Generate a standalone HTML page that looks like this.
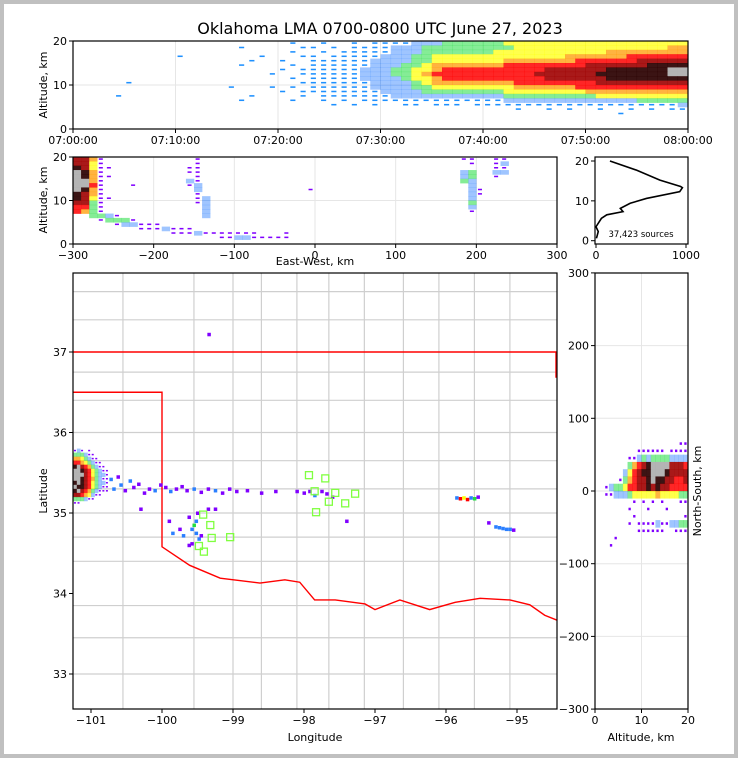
<!DOCTYPE html>
<html><head><meta charset="utf-8"><style>
html,body{margin:0;padding:0;background:#fff}
svg{display:block;font-family:"DejaVu Sans","Liberation Sans",sans-serif}
</style></head><body>
<svg id="fig" width="738" height="758" viewBox="0 0 738 758" xmlns="http://www.w3.org/2000/svg">
<rect x="0" y="0" width="738" height="758" fill="#c0c0c0"/>
<rect x="4" y="4" width="730" height="750" fill="#fff"/>
<text x="380" y="34" font-size="16" text-anchor="middle">Oklahoma LMA 0700-0800 UTC June 27, 2023</text>
<g id="layer"></g>
</svg>
<script>
// ---------- DATA ----------
const timeAltRows = [
"0000000000 0000000000 0100100101 1112223333 3344444444 4444444444",
"0000000000 0000001000 0011010111 1222333333 3334444444 4444444455",
"0000000000 0000000000 0100101111 1222333333 3444444444 4455555555",
"0000000000 1000000010 0011011111 2223344444 4444444455 5555666666",
"0000000000 0000000100 1001111112 2223344444 4455555556 6666677777",
"0000000000 0000001000 0101111112 2233455555 5566666666 7777778888",
"0000000000 0000000000 1011111122 2334456666 6666667777 7788888899",
"0000000000 0000000001 0011111122 2334566666 6666677777 7888888899",
"0000000000 0000000000 0101111122 2234456666 6666667777 7788888888",
"0000010000 0000000000 0011111112 2223455555 5556666666 6777777777",
"0000000000 0000010001 0101111112 2223344444 4445555556 6666666666",
"0000000000 0000000000 1011111111 2222333333 3344444444 5555555555",
"0000100000 0000000100 0010111111 1222222222 2233333333 3444444444",
"0000000000 0000001000 0100101011 1111111111 1122222222 2222233333",
"0000000000 0000000000 0000010101 0011011101 1111111111 1111111112",
"0000000000 0000000000 0000000000 0000000000 0001001010 0100101011",
"0000000000 0000000000 0000000000 0000000000 0000000000 0001000000",
"0000000000 0000000000 0000000000 0000000000 0000000000 0000000000",
"0000000000 0000000000 0000000000 0000000000 0000000000 0000000000",
"0000000000 0000000000 0000000000 0000000000 0000000000 0000000000"];
const timeTicks = ["07:00:00","07:10:00","07:20:00","07:30:00","07:40:00","07:50:00","08:00:00"];
const timeTickMin = [0,10,20,30,40,50,60];
const ewAltRows = [
"7751000000 0000010000 0000000000 0000000000 0000000011 0011000000",
"7741000000 0000010000 0000000000 0000000000 0000000001 0012000000",
"8741100000 0000110000 0000000000 0000000000 0000000000 0011000000",
"9851000000 0000110000 0000000000 0000000000 0000000023 0022000000",
"9851100000 0000010000 0000000000 0000000000 0000000023 0010000000",
"9951000000 0000210000 0000000000 0000000000 0000000032 0000000000",
"9961000100 0000120000 0000000000 0000000000 0000000002 0000000000",
"9851000000 0000020000 0000000001 0000000000 0000000002 1000000000",
"8751000000 0000010000 0000000000 0000000000 0000000002 1000000000",
"8741100000 0000012000 0000000000 0000000000 0000000002 0000000000",
"7731000000 0000012000 0000000000 0000000000 0000000003 0000000000",
"6631000000 0000002000 0000000000 0000000000 0000000002 0000000000",
"6531000000 0000002000 0000000000 0000000000 0000000001 0000000000",
"0033210000 0000002000 0000000000 0000000000 0000000000 0000000000",
"0001333100 0000000000 0000000000 0000000000 0000000000 0000000000",
"0000012211 1000000000 0000000000 0000000000 0000000000 0000000000",
"0000000011 1211100000 0000000000 0000000000 0000000000 0000000000",
"0000000000 0011121111 1110001000 0000000000 0000000000 0000000000",
"0000000000 0000000011 2211111000 0000000000 0000000000 0000000000",
"0000000000 0000000000 0000000000 0000000000 0000000000 0000000000"];
const ewTicks = [-300,-200,-100,0,100,200,300];
const histAlt   = [0.6, 2.3, 3.5, 5.6, 6.5, 7.3, 8.1, 9.4, 10.6, 12.3, 13.3, 13.6, 15.2, 17.7, 20];
const histCount = [5,   25,  0,   60,  120, 300, 270, 380, 560,  930,  960,  940,  710,  450,  155];
const sourceLabel = "37,423 sources";
const nsRows = [
"00000000000000000011",
"00000000011111101111",
"00000001123233332222",
"00000003567899997776",
"00000024678899987777",
"00000135677898877667",
"00123346677878776666",
"00112223444445444433",
"00000000101010100011",
"00000001000100010000",
"00000000100000000001",
"00000001011112112233",
"00000000011111100111",
"00001000000000000000",
"00010000000000000000"];
const nsTop = 70;
const nsTicks = [-300,-200,-100,0,100,200,300];
const altTicks = [0,10,20];
const mapBlobRows = [
"1210100000","3332110000","5543211000","6654321100","8976532110","9987643211",
"9997643221","9987653211","8987643221","9887643211","8976532111","7765421100",
"3332110000","1100000000"];
const mapPtLon = [-100.72,-100.68,-100.62,-100.58,-100.52,-100.45,-100.4,-100.33,-100.25,-100.18,-100.1,-100.02,-99.95,-99.88,-99.8,-99.72,-99.65,-99.55,-99.45,-99.35,-99.25,-99.15,-99.05,-98.95,-98.8,-98.6,-98.4,
 -98.1,-98.0,-97.92,-97.85,-97.75,-97.68,-97.6,
 -95.85,-95.8,-95.75,-95.7,-95.65,-95.6,-95.55,
 -95.4,-95.3,-95.25,-95.2,-95.15,-95.1,-95.05,
 -99.9,-99.85,-99.75,-99.7,-99.62,-99.58,-99.55,-99.52,-99.5,-99.48,-99.45,-99.58,-99.62,-99.52,-99.25,-99.35,
 -99.34,-100.3,-97.4];
const mapPtLat = [35.42,35.3,35.45,35.35,35.28,35.4,35.32,35.36,35.25,35.3,35.28,35.35,35.32,35.27,35.3,35.33,35.28,35.3,35.26,35.3,35.28,35.25,35.3,35.27,35.28,35.25,35.27,
 35.27,35.25,35.27,35.22,35.27,35.24,35.2,
 35.19,35.18,35.19,35.17,35.19,35.18,35.2,
 34.88,34.83,34.82,34.81,34.8,34.8,34.79,
 34.9,34.75,34.8,34.72,34.95,34.8,34.85,34.75,35.0,34.68,34.72,34.62,34.6,34.9,35.05,35.05,
 37.22,35.05,34.9];
const mapPtLvl = [2,2,1,2,1,2,1,1,1,1,2,1,1,2,1,1,1,2,1,1,2,1,1,1,1,1,1,
 1,1,1,2,1,1,1, 2,6,4,6,2,3,1, 1,2,2,2,2,2,1,
 1,2,1,2,1,2,3,2,1,2,1,1,1,2,1,1, 1,1,1];
const stationLon = [-97.93,-97.70,-97.85,-97.56,-97.65,-97.42,-97.28,-97.83,-99.42,-99.32,-99.30,-99.04,-99.48,-99.41];
const stationLat = [35.47,35.43,35.27,35.25,35.14,35.12,35.24,35.01,34.98,34.85,34.69,34.70,34.59,34.52];
const borderLon = [-101.25,-100.0,-100.0,-99.61,-99.18,-98.62,-98.27,-98.06,-97.85,-97.56,-97.14,-97.0,-96.65,-96.23,-95.87,-95.52,-95.10,-94.82,-94.61,-94.44];
const borderLat = [36.5,36.5,34.58,34.35,34.19,34.13,34.17,34.14,33.92,33.92,33.87,33.80,33.92,33.80,33.89,33.94,33.92,33.86,33.73,33.67];
const countyLats = [37.75,37.4,36.75,36.4,36.0,35.65,35.3,35.0,34.7,34.4,33.85,33.45,33.0];
const countyLons = [-100.55,-99.55,-99.0,-98.6,-98.1,-97.65,-97.15,-96.6,-96.1,-95.6,-95.1];
const lonTicks = [-101,-100,-99,-98,-97,-96,-95];
const latTicks = [33,34,35,36,37];

// ---------- SCALES ----------
const tx = m => 73 + m/60*615, ty = a => 129 - a/20*88;
const ex = k => 73 + (k+300)/600*484, ey = a => 244 - a/20*87;
const hx = c => 596 + c*0.09, hy = a => 240.7 - a*3.985;
const mx = lon => 91 + (lon+101)*71, my = lat => 352 - (lat-37)*80.5;
const rx = a => 595 + a/20*93, ry = n => 491 - n*0.727;

const NS = "http://www.w3.org/2000/svg";
const layer = document.getElementById('layer');
function mk(tag, attrs, parent){ const e=document.createElementNS(NS,tag); for(const k in attrs) e.setAttribute(k,attrs[k]); (parent||layer).appendChild(e); return e; }
const pal = ['', '', '#2a7fff', '#20dd40', '#ffff00', '#ff9900', '#ff0000', '#a00000', '#2a0000', '#b0b0b0'];
const op  = [0, 1, 0.45, 0.55, 0.7, 0.75, 0.85, 0.9, 0.92, 0.95];

function drawMatrix(g, rows, xs, ys, x0, yTop, dx, dy, sparse){
  rows.forEach((r, ri) => {
    const s = r.replace(/ /g,'');
    for (let ci=0; ci<s.length; ci++){
      const lv = +s[ci]; if(!lv) continue;
      const xa = xs(x0 + ci*dx), xb = xs(x0 + (ci+1)*dx);
      const ya = ys(yTop - ri*dy), yb = ys(yTop - (ri+1)*dy);
      const x = Math.min(xa,xb), w = Math.abs(xb-xa), y = Math.min(ya,yb), h = Math.abs(yb-ya);
      let c;
      if (lv===1) c = mk('rect',{x:x+w*0.2,y:y+h*0.3,width:Math.max(w*0.5,2),height:Math.max(h*0.35,1.5),fill:sparse},g);
      else c = mk('rect',{x:x,y:y,width:w+0.3,height:h+0.3,fill:pal[lv],opacity:op[lv]},g);
      
      
    }
  });
}
function txt(x,y,s,opts){ const t=mk('text',Object.assign({x:x,y:y,'font-size':11,'text-anchor':'middle'},opts||{})); t.textContent=s; return t; }
function frame(x,y,w,h,name){ const r=mk('rect',{x:x,y:y,width:w,height:h,fill:'none',stroke:'#000','stroke-width':1.2});   }
function tickX(x,yb,label,name){ const l=mk('line',{x1:x,y1:yb,x2:x,y2:yb+4,stroke:'#000'});   const t=txt(x,yb+15,label);   }
function tickY(xl,y,label,name){ const l=mk('line',{x1:xl-4,y1:y,x2:xl,y2:y,stroke:'#000'});   const t=txt(xl-6,y+4,label,{'text-anchor':'end'});   }
function grid(x1,y1,x2,y2){ const l=mk('line',{x1:x1,y1:y1,x2:x2,y2:y2,stroke:'#e6e6e6','stroke-width':1});   }

// ---------- TOP PANEL ----------
timeTickMin.forEach(m=>grid(tx(m),41,tx(m),129)); grid(73,ty(10),688,ty(10));
const gTop = mk('g',{});  
drawMatrix(gTop, timeAltRows, tx, ty, 0, 20, 1, 1, '#1e90ff');
frame(73,41,615,88,'time-altitude-axes');
timeTickMin.forEach((m,i)=>tickX(tx(m),129,timeTicks[i],'time-axis'));
[0,10,20].forEach(a=>tickY(73,ty(a),String(a),'top-altitude-axis'));
let t = txt(47,85,'Altitude, km',{transform:'rotate(-90 47 85)'});  

// ---------- EAST-WEST PANEL ----------
ewTicks.forEach(k=>grid(ex(k),157,ex(k),244)); grid(73,ey(10),557,ey(10));
const gEW = mk('g',{});  
drawMatrix(gEW, ewAltRows, ex, ey, -300, 20, 10, 1, '#8000ff');
frame(73,157,484,87,'east-west-axes');
ewTicks.forEach(k=>tickX(ex(k),244,k<0?'\u2212'+(-k):String(k),'east-west-axis'));
[0,10,20].forEach(a=>tickY(73,ey(a),String(a),'ew-altitude-axis'));
t = txt(47,200,'Altitude, km',{transform:'rotate(-90 47 200)'});  
t = txt(315,265,'East-West, km');  

// ---------- HISTOGRAM ----------
const hp = mk('polyline',{points:histAlt.map((a,i)=>hx(histCount[i])+','+hy(a)).join(' '),fill:'none',stroke:'#000','stroke-width':1.6});
 
frame(595,157,93,87,'histogram-axes');
[0,1000].forEach(c=>tickX(hx(c),244,String(c),'histogram-count-axis'));
[0,10,20].forEach(a=>tickY(595,hy(a),String(a),'histogram-altitude-axis'));
t = txt(641,237,sourceLabel,{'font-size':8.5});  

// ---------- MAP ----------
const gMap = mk('g',{});  
const clip = mk('clipPath',{id:'mapclip'}); mk('rect',{x:73,y:273,width:484,height:436},clip);
const gGeo = mk('g',{'clip-path':'url(#mapclip)'},gMap);
countyLats.forEach(la=>{ const l=mk('line',{x1:73,y1:my(la),x2:557,y2:my(la),stroke:'#cfcfcf','stroke-width':1.2},gGeo);   });
countyLons.forEach(lo=>{ const l=mk('line',{x1:mx(lo),y1:273,x2:mx(lo),y2:709,stroke:'#cfcfcf','stroke-width':1.2},gGeo);   });
let sl = mk('line',{x1:73,y1:my(37),x2:557,y2:my(37),stroke:'#ff0000','stroke-width':1.4},gGeo);  
sl = mk('line',{x1:556,y1:my(37),x2:556,y2:my(36.68),stroke:'#ff0000','stroke-width':1.4},gGeo);  
const bp = mk('polyline',{points:borderLon.map((lo,i)=>mx(lo)+','+my(borderLat[i])).join(' '),fill:'none',stroke:'#ff0000','stroke-width':1.4},gGeo);
 
drawMatrix(gGeo, mapBlobRows, mx, my, -101.25, 35.8, 0.05, 0.05, '#8000ff');
mapPtLon.forEach((lo,i)=>{ const lv=mapPtLvl[i]; const c=mk('rect',{x:mx(lo)-1.5,y:my(mapPtLat[i])-1.5,width:3.5,height:3.5,fill:lv===1?'#8000ff':pal[lv]},gGeo);   });
stationLon.forEach((lo,i)=>{ const s=mk('rect',{x:mx(lo)-3.5,y:my(stationLat[i])-3.5,width:7,height:7,fill:'none',stroke:'#80ff40','stroke-width':1.3},gGeo);   });
frame(73,273,484,436,'map-axes');
lonTicks.forEach(lo=>tickX(mx(lo),709,'\u2212'+(-lo),'longitude-axis'));
latTicks.forEach(la=>tickY(73,my(la),String(la),'latitude-axis'));
t = txt(47,491,'Latitude',{transform:'rotate(-90 47 491)'});  
t = txt(315,741,'Longitude');  

// ---------- RIGHT PANEL ----------
grid(rx(10),273,rx(10),709); nsTicks.forEach(n=>grid(595,ry(n),688,ry(n)));
const gNS = mk('g',{});  
drawMatrix(gNS, nsRows, rx, ry, 0, nsTop, 1, 10, '#8000ff');
frame(595,273,93,436,'north-south-axes');
altTicks.forEach(a=>tickX(rx(a),709,String(a),'ns-altitude-axis'));
nsTicks.forEach(n=>tickY(595,ry(n),n<0?'\u2212'+(-n):String(n),'north-south-axis'));
t = txt(641,741,'Altitude, km');  
t = txt(701,491,'North-South, km',{transform:'rotate(-90 701 491)'});  
</script>
</body></html>
